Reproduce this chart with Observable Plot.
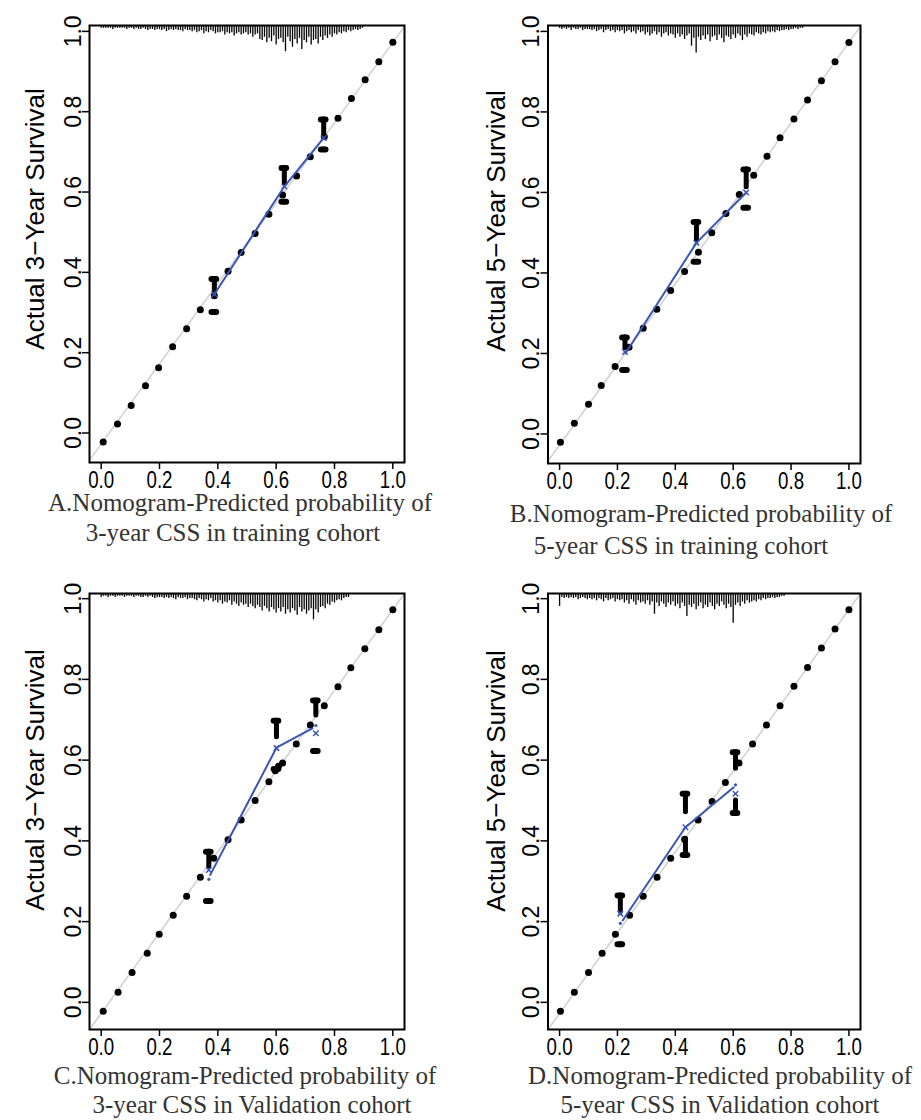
<!DOCTYPE html>
<html><head><meta charset="utf-8">
<script src="https://cdn.jsdelivr.net/npm/d3@7"></script>
<script src="https://cdn.jsdelivr.net/npm/@observablehq/plot@0.6"></script>
<style>
body{margin:0;background:#fff;width:921px;height:1120px;position:relative;overflow:hidden}
.panel{position:absolute}
.ytitle{position:absolute;font-family:"Liberation Sans",Arial,sans-serif;font-size:26px;white-space:nowrap;transform:translate(-50%,-50%) rotate(-90deg);color:#000;line-height:30px}
.cap{position:absolute;font-family:"Liberation Serif","Times New Roman",serif;font-size:25px;line-height:20px;color:#333;white-space:nowrap;text-align:center;width:460px}
</style></head><body>
<script>
// ---------- shared ----------
const tickValues = [0, 0.2, 0.4, 0.6, 0.8, 1.0];
const idealLine = [-0.1, 1.1];
const rugStep = 0.008;

// ---------- Panel A: 3-year, training ----------
const dotsA_x = [0.007,0.056,0.103,0.152,0.197,0.245,0.293,0.34,0.388,0.435,0.48,0.528,0.575,0.622,0.67,0.717,0.765,0.812,0.858,0.905,0.952,1.0];
const dotsA_y = [0.005,0.05,0.096,0.145,0.19,0.242,0.287,0.334,0.369,0.43,0.477,0.524,0.572,0.62,0.667,0.715,0.765,0.811,0.86,0.907,0.952,1.0];
const groupsA_x = [0.388, 0.628, 0.763];
const groupsA_upper = [0.411, 0.687, 0.808];
const groupsA_upperEnd = [0.378, 0.648, 0.766];
const groupsA_lowerEnd = [0.329, 0.603, 0.733];
const groupsA_lower = [0.329, 0.603, 0.733];
const calA_x = [0.388, 0.628, 0.763];
const calA_y = [0.373, 0.641, 0.762];
const crossA_x = [0.388, 0.628, 0.763];
const crossA_y = [0.373, 0.641, 0.762];
const smallA_x = [];
const smallA_y = [];
const rugA_start = 0.0;
const rugA = [1,1,1,1,1,2,1,1,1,1,1,2,1,
  1,2,1,2,2,1,2,3,2,2,3,2,2,
  3,2,4,3,2,3,2,3,3,4,2,3,3,
  4,3,5,4,3,6,4,5,3,4,6,5,
  5,4,7,5,6,5,8,6,5,7,6,5,
  7,6,9,7,6,11,
  12,9,14,10,13,8,16,11,10,14,22,9,13,18,11,15,10,20,12,14,9,16,12,11,15,9,12,8,10,7,9,6,
  7,5,6,4,5,3,4,3,2,3,2,1];

// ---------- Panel B: 5-year, training ----------
const dotsB_x = [0.003,0.051,0.1,0.144,0.192,0.24,0.289,0.336,0.384,0.432,0.48,0.526,0.575,0.621,0.671,0.717,0.762,0.81,0.857,0.905,0.952,1.0];
const dotsB_y = [0.007,0.054,0.101,0.148,0.195,0.243,0.29,0.337,0.384,0.431,0.479,0.527,0.575,0.622,0.67,0.717,0.763,0.81,0.857,0.905,0.952,1.0];
const groupsB_x = [0.226, 0.473, 0.645];
const groupsB_upper = [0.267, 0.554, 0.684];
const groupsB_upperEnd = [0.24, 0.508, 0.64];
const groupsB_lowerEnd = [0.186, 0.455, 0.589];
const groupsB_lower = [0.186, 0.455, 0.589];
const calB_x = [0.228, 0.473, 0.645];
const calB_y = [0.228, 0.502, 0.627];
const crossB_x = [0.226, 0.473, 0.645];
const crossB_y = [0.231, 0.502, 0.627];
const smallB_x = [];
const smallB_y = [];
const rugB_start = 0.0;
const rugB = [1,2,1,2,1,3,1,2,2,1,3,2,2,
  2,3,2,4,3,2,5,3,2,4,3,5,3,
  4,3,6,4,3,5,4,6,3,5,4,7,
  5,8,6,4,7,5,9,6,5,8,6,7,10,
  6,9,7,11,8,6,17,10,23,9,12,8,
  11,7,13,9,8,12,7,10,14,8,9,11,7,
  10,6,8,12,7,9,6,7,8,5,6,7,5,
  6,4,5,4,5,3,4,3,3,2,3,2,2,1,2,1,1];

// ---------- Panel C: 3-year, validation ----------
const dotsC_x = [0.007,0.058,0.106,0.158,0.199,0.247,0.293,0.34,0.386,0.435,0.48,0.528,0.575,0.597,0.608,0.622,0.669,0.717,0.765,0.812,0.856,0.904,0.952,1.0];
const dotsC_y = [0.005,0.052,0.101,0.149,0.196,0.243,0.29,0.337,0.384,0.43,0.479,0.527,0.574,0.601,0.612,0.62,0.667,0.714,0.762,0.809,0.856,0.903,0.95,1.0];
const groupsC_x = [0.369, 0.601, 0.736];
const groupsC_upper = [0.40, 0.725, 0.775];
const groupsC_upperEnd = [0.363, 0.684, 0.738];
const groupsC_lowerEnd = [0.278, 0.605, 0.65];
const groupsC_lower = [0.278, 0.605, 0.65];
const calC_x = [0.374, 0.601, 0.724];
const calC_y = [0.343, 0.658, 0.706];
const crossC_x = [0.369, 0.601, 0.736];
const crossC_y = [0.355, 0.657, 0.694];
const smallC_x = [0.369, 0.736];
const smallC_y = [0.332, 0.713];
const rugC_start = 0.0;
const rugC = [2,1,1,2,1,1,2,1,1,1,2,1,1,
  1,2,1,1,2,2,1,2,1,2,3,2,2,
  2,3,2,3,2,3,4,2,3,3,2,4,3,
  3,4,5,3,4,6,4,5,3,6,5,7,
  5,8,6,7,5,9,6,8,10,7,9,8,
  11,8,10,12,9,11,14,10,12,15,11,13,16,
  12,15,11,17,13,16,12,14,18,11,15,13,17,
  14,12,22,13,16,11,10,12,8,9,6,7,5,
  4,5,3,2,2];

// ---------- Panel D: 5-year, validation ----------
const dotsD_x = [0.003,0.051,0.1,0.147,0.193,0.242,0.289,0.337,0.384,0.432,0.479,0.527,0.573,0.62,0.667,0.715,0.762,0.81,0.857,0.905,0.952,1.0];
const dotsD_y = [0.005,0.052,0.101,0.149,0.196,0.243,0.29,0.337,0.384,0.431,0.479,0.525,0.572,0.62,0.667,0.714,0.762,0.81,0.857,0.905,0.952,1.0];
const groupsD_x = [0.21, 0.435, 0.608];
const groupsD_upper = [0.292, 0.544, 0.647];
const groupsD_upperEnd = [0.251, 0.498, 0.606];
const groupsD_lowerEnd = [0.171, 0.432, 0.527];
const groupsD_lower = [0.171, 0.392, 0.496];
const calD_x = [0.218, 0.435, 0.602];
const calD_y = [0.23, 0.461, 0.56];
const crossD_x = [0.21, 0.435, 0.608];
const crossD_y = [0.247, 0.461, 0.544];
const smallD_x = [0.21, 0.608];
const smallD_y = [0.223, 0.566];
const rugD_start = 0.0;
const rugD = [10,2,3,2,3,2,3,2,4,3,2,3,4,
  3,4,3,5,3,4,6,3,5,4,3,6,4,
  5,4,7,5,8,4,6,9,5,7,6,8,5,
  9,6,17,7,10,6,8,11,7,9,6,10,
  8,12,7,10,19,9,11,8,13,10,7,12,
  9,11,7,10,13,8,10,6,9,12,8,11,25,
  9,7,10,6,8,5,7,6,5,6,4,5,3,
  4,3,3,2,3,2,2,1,1];

// ---------- text ----------
const yTitles = ["Actual 3\u2212Year Survival","Actual 5\u2212Year Survival","Actual 3\u2212Year Survival","Actual 5\u2212Year Survival"];
const captions = [
  ["A.Nomogram-Predicted probability of","3-year CSS in training cohort"],
  ["B.Nomogram-Predicted probability of","5-year CSS in training cohort"],
  ["C.Nomogram-Predicted probability of","3-year CSS in Validation cohort"],
  ["D.Nomogram-Predicted probability of","5-year CSS in Validation cohort"]
];

// ---------- layout ----------
const BLUE = "#3a55b4";
const RUG_PX = 360;   // rug count -> data length
const RUG_MIN = 1.5;
const CAP_HALF = 0.008;
const layout = [
  {left:0,   top:0,   mL:89,   mR:56, yDomain:[-0.046,1.042], frameH:437, title:[35,219], cap:[[240,511],[233,541]]},
  {left:460, top:0,   mL:87.5, mR:60, yDomain:[-0.046,1.042], frameH:438, title:[496,221], cap:[[701,522],[681,554]]},
  {left:0,   top:568, mL:89,   mR:56, yDomain:[-0.04,1.04],   frameH:436, title:[35,780], cap:[[245,1084],[252,1113]]},
  {left:460, top:568, mL:87.5, mR:60, yDomain:[-0.04,1.04],   frameH:436, title:[496,781], cap:[[720,1084],[720,1113]]}
];
const data = [
  {dx:dotsA_x,dy:dotsA_y,gx:groupsA_x,gu:groupsA_upper,gue:groupsA_upperEnd,gle:groupsA_lowerEnd,gl:groupsA_lower,cx:calA_x,cy:calA_y,xx:crossA_x,xy:crossA_y,sx:smallA_x,sy:smallA_y,rs:rugA_start,rug:rugA},
  {dx:dotsB_x,dy:dotsB_y,gx:groupsB_x,gu:groupsB_upper,gue:groupsB_upperEnd,gle:groupsB_lowerEnd,gl:groupsB_lower,cx:calB_x,cy:calB_y,xx:crossB_x,xy:crossB_y,sx:smallB_x,sy:smallB_y,rs:rugB_start,rug:rugB},
  {dx:dotsC_x,dy:dotsC_y,gx:groupsC_x,gu:groupsC_upper,gue:groupsC_upperEnd,gle:groupsC_lowerEnd,gl:groupsC_lower,cx:calC_x,cy:calC_y,xx:crossC_x,xy:crossC_y,sx:smallC_x,sy:smallC_y,rs:rugC_start,rug:rugC},
  {dx:dotsD_x,dy:dotsD_y,gx:groupsD_x,gu:groupsD_upper,gue:groupsD_upperEnd,gle:groupsD_lowerEnd,gl:groupsD_lower,cx:calD_x,cy:calD_y,xx:crossD_x,xy:crossD_y,sx:smallD_x,sy:smallD_y,rs:rugD_start,rug:rugD}
];

function condense(svg, label, len) {
  svg.querySelectorAll(`g[aria-label="${label}"] text`).forEach(t => {
    t.setAttribute("textLength", len);
    t.setAttribute("lengthAdjust", "spacingAndGlyphs");
  });
}

const fmt = d3.format(".1f");
layout.forEach((L, k) => {
  const D = data[k];
  const yTop = L.yDomain[1];
  const dots = D.dx.map((x, i) => ({x, y: D.dy[i]}));
  const groups = D.gx.map((x, i) => ({x, up: D.gu[i], upEnd: D.gue[i], loEnd: D.gle[i], lo: D.gl[i]}));
  const cal = D.cx.map((x, i) => ({x, y: D.cy[i]}));
  const cross = D.xx.map((x, i) => ({x, y: D.xy[i]}));
  const small = D.sx.map((x, i) => ({x, y: D.sy[i]}));
  const rug = D.rug.map((h, i) => ({x: D.rs + i * rugStep, h: (h + RUG_MIN) / RUG_PX}));
  const ideal = idealLine.map(v => ({x: v, y: v}));

  const svg = Plot.plot({
    width: 460, height: 500,
    marginLeft: L.mL, marginRight: L.mR, marginTop: 25, marginBottom: 500 - 25 - L.frameH,
    x: {domain: [-0.04, 1.04]},
    y: {domain: L.yDomain},
    style: {fontFamily: "'Liberation Sans', Arial, sans-serif", color: "#000", background: "transparent", overflow: "visible"},
    marks: [
      Plot.line(ideal, {x: "x", y: "y", stroke: "#d2d2d2", strokeWidth: 1.6, clip: true}),
      Plot.ruleX(rug, {x: "x", y1: yTop, y2: d => yTop - d.h, stroke: "#000", strokeWidth: 1.3}),
      Plot.dot(dots, {x: "x", y: "y", r: 3.5, fill: "#000"}),
      Plot.ruleX(groups, {x: "x", y1: "up", y2: "upEnd", stroke: "#000", strokeWidth: 5, strokeLinecap: "round"}),
      Plot.ruleX(groups, {x: "x", y1: "lo", y2: "loEnd", stroke: "#000", strokeWidth: 5, strokeLinecap: "round"}),
      Plot.ruleY(groups, {y: "up", x1: d => d.x - CAP_HALF, x2: d => d.x + CAP_HALF, stroke: "#000", strokeWidth: 6, strokeLinecap: "round"}),
      Plot.ruleY(groups, {y: "lo", x1: d => d.x - CAP_HALF, x2: d => d.x + CAP_HALF, stroke: "#000", strokeWidth: 6, strokeLinecap: "round"}),
      Plot.line(cal, {x: "x", y: "y", stroke: BLUE, strokeWidth: 2}),
      Plot.dot(cross, {x: "x", y: "y", symbol: "times", r: 2.6, stroke: BLUE, strokeWidth: 1.5}),
      Plot.dot(small, {x: "x", y: "y", r: 1.6, fill: BLUE}),
      Plot.axisX({ticks: tickValues, tickFormat: fmt, tickSize: 7, tickPadding: 2, fontSize: 23, strokeWidth: 1.5, label: null}),
      Plot.axisY({ticks: tickValues, tickFormat: fmt, tickSize: 7, tickPadding: 2, fontSize: 23, strokeWidth: 1.5, tickRotate: -90, textAnchor: "middle", lineAnchor: "bottom", dy: -11, label: null}),
      Plot.frame({stroke: "#000", strokeWidth: 2})
    ]
  });
  condense(svg, "x-axis tick label", 26);
  const wrap = document.createElement("div");
  wrap.className = "panel";
  wrap.style.left = L.left + "px";
  wrap.style.top = L.top + "px";
  wrap.appendChild(svg);
  document.body.appendChild(wrap);

  const t = document.createElement("div");
  t.className = "ytitle";
  t.textContent = yTitles[k];
  t.style.left = L.title[0] + "px";
  t.style.top = L.title[1] + "px";
  document.body.appendChild(t);

  // line-height 20px, font 25px: baseline sits ~18.4px below the box top
  captions[k].forEach((line, j) => {
    const c = document.createElement("div");
    c.className = "cap";
    c.textContent = line;
    c.style.left = (L.cap[j][0] - 230) + "px";
    c.style.top = (L.cap[j][1] - 18.4) + "px";
    document.body.appendChild(c);
  });
});
</script>
</body></html>
